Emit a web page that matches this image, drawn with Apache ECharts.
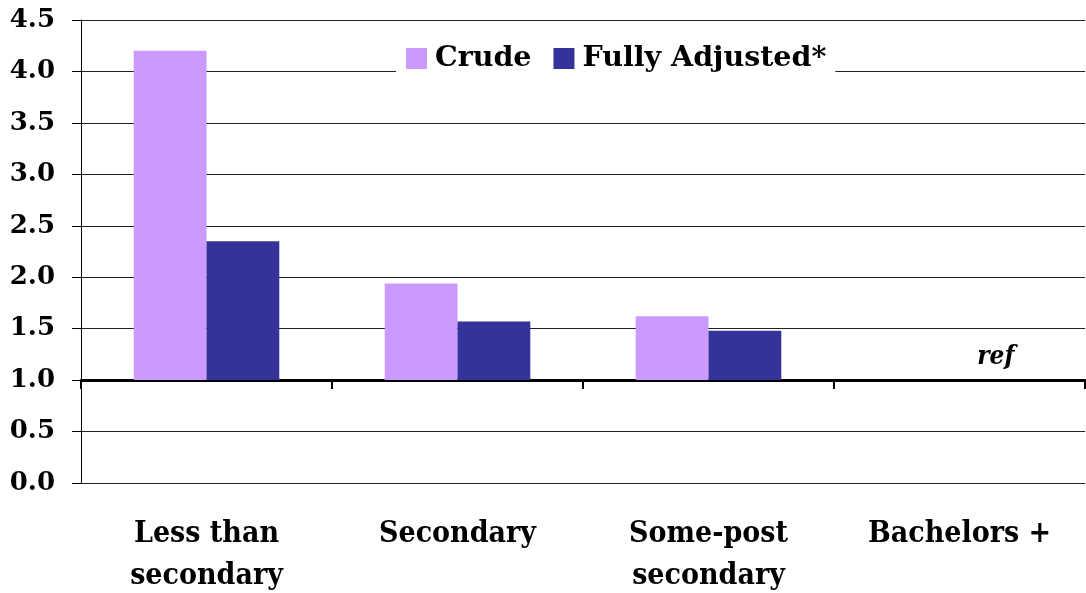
<!DOCTYPE html>
<html>
<head>
<meta charset="utf-8">
<script src="https://cdn.jsdelivr.net/npm/echarts@6/dist/echarts.min.js"></script>
<style>
html,body{margin:0;padding:0;background:#fff;}
#chart{width:1086px;height:593px;}
</style>
</head>
<body>
<div id="chart"></div>
<script>
const categories = ['Less than\nsecondary', 'Secondary', 'Some-post\nsecondary', 'Bachelors +'];
const crude = [4.2, 1.94, 1.62, 1.0];
const adjusted = [2.35, 1.57, 1.48, 1.0];
const seriesNames = ['Crude', 'Fully Adjusted*'];
const refLabel = 'ref';
const baseline = 1.0;
const yTicks = ['0.0','0.5','1.0','1.5','2.0','2.5','3.0','3.5','4.0','4.5'];

const FONT = '"DejaVu Serif", serif';
const FONT_COND = '"DejaVu Serif Condensed", "DejaVu Serif", serif';
const chart = echarts.init(document.getElementById('chart'));
const shift = v => +(v - baseline).toFixed(4);

chart.setOption({
  animation: false,
  backgroundColor: '#fff',
  grid: { left: 81, right: 1, top: 20, bottom: 110, containLabel: false, outerBoundsMode: 'none' },
  legend: {
    data: seriesNames,
    top: 38, left: 396,
    backgroundColor: '#fff',
    padding: [6, 9, 6, 10],
    itemWidth: 21, itemHeight: 21, itemGap: 22,
    icon: 'rect',
    textStyle: { fontFamily: FONT, fontWeight: 'bold', fontSize: 28.5, color: '#000', padding: [0, 0, 0, 3] }
  },
  xAxis: [
    {
      type: 'category', data: categories,
      axisLine: { onZero: true, lineStyle: { color: '#000', width: 3 } },
      axisTick: { show: true, length: 9, lineStyle: { color: '#000', width: 2 } },
      axisLabel: { show: false },
      splitLine: { show: false }
    },
    {
      type: 'category', data: categories, position: 'bottom',
      axisLine: { show: false, onZero: false },
      axisTick: { show: false },
      axisLabel: {
        show: true, margin: 30, lineHeight: 42,
        fontFamily: FONT_COND, fontWeight: 'bold', fontSize: 30, color: '#000'
      }
    }
  ],
  yAxis: {
    type: 'value', min: -1, max: 3.5, interval: 0.5,
    axisLine: { show: true, lineStyle: { color: '#000', width: 1 } },
    axisTick: { show: true, inside: false, length: 9, lineStyle: { color: '#000' } },
    axisLabel: {
      margin: 26, fontFamily: FONT, fontWeight: 'bold', fontSize: 26, color: '#000',
      formatter: v => yTicks[Math.round((v + baseline) / 0.5)]
    },
    splitLine: { show: true, lineStyle: { color: '#222', width: 1 } }
  },
  series: [
    {
      name: seriesNames[0], type: 'bar', xAxisIndex: 0,
      data: crude.map(shift),
      itemStyle: { color: '#CC99FF' },
      barGap: '0%', barCategoryGap: '42%'
    },
    {
      name: seriesNames[1], type: 'bar', xAxisIndex: 0,
      data: adjusted.map(shift),
      itemStyle: { color: '#333399' },
      barGap: '0%', barCategoryGap: '42%',
      label: {
        show: true, position: 'top', distance: 10,
        formatter: p => (p.value === 0 ? refLabel : ''),
        fontFamily: FONT_COND, fontWeight: 'bold', fontStyle: 'italic', fontSize: 26, color: '#000'
      }
    }
  ]
});
</script>
</body>
</html>
